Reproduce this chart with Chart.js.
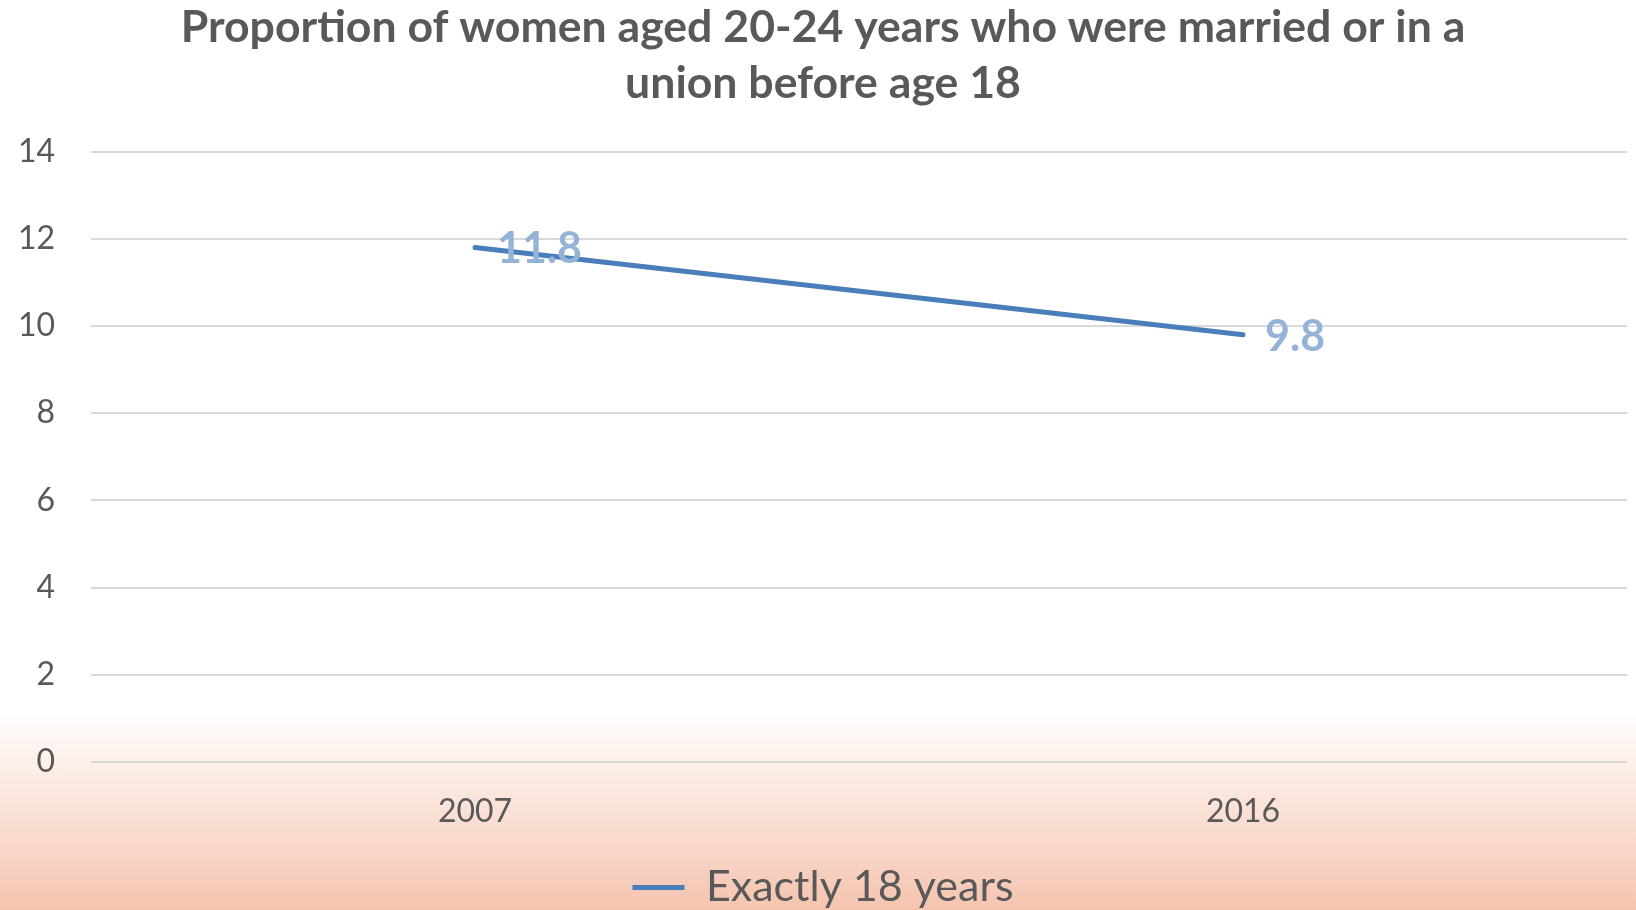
<!DOCTYPE html>
<html>
<head>
<meta charset="utf-8">
<script src="https://cdn.jsdelivr.net/npm/chart.js@4/dist/chart.umd.min.js"></script>
<style>
  html, body { margin: 0; padding: 0; background: #fff; }
  #wrap { width: 1636px; height: 910px; }
</style>
</head>
<body>
<div id="wrap"><canvas id="lineChart"></canvas></div>
<script>
// data
const years = ["2007", "2016"];
const exactly18 = [11.8, 9.8];
const seriesName = "Exactly 18 years";
const titleLines = ["Proportion of women aged 20-24 years who were married or in a", "union before age 18"];

const LINE_BLUE = "#4a7ebb";
const LABEL_BLUE = "#95b3d7";
const GREY_TEXT = "#595959";

// white page with the peach fade at the bottom
const bgPlugin = {
  id: "bg",
  beforeDraw(chart) {
    const c = chart.ctx;
    const w = chart.width, h = chart.height;
    c.save();
    c.fillStyle = "#ffffff";
    c.fillRect(0, 0, w, h);
    const g = c.createLinearGradient(0, 710, 0, h);
    g.addColorStop(0, "rgba(245,196,175,0)");
    g.addColorStop(1, "rgba(245,196,175,1)");
    c.fillStyle = g;
    c.fillRect(0, 710, w, h - 710);
    c.restore();
  }
};

// value labels to the right of each point
const valueLabels = {
  id: "valueLabels",
  afterDatasetsDraw(chart) {
    const c = chart.ctx;
    const meta = chart.getDatasetMeta(0);
    c.save();
    c.font = "bold 43px Lato";
    c.fillStyle = LABEL_BLUE;
    c.textAlign = "left";
    c.textBaseline = "middle";
    meta.data.forEach(function (pt, i) {
      c.fillText(String(chart.data.datasets[0].data[i]), pt.x + 22, pt.y + 2);
    });
    c.restore();
  }
};

new Chart(document.getElementById("lineChart"), {
  type: "line",
  data: {
    labels: years,
    datasets: [{
      label: seriesName,
      data: exactly18,
      borderColor: LINE_BLUE,
      backgroundColor: LINE_BLUE,
      borderWidth: 5,
      borderCapStyle: "round",
      pointRadius: 0,
      tension: 0
    }]
  },
  options: {
    responsive: true,
    maintainAspectRatio: false,
    animation: false,
    layout: { padding: { left: 19, right: 9, top: 0, bottom: -9 } },
    plugins: {
      title: {
        display: true,
        text: titleLines,
        color: GREY_TEXT,
        font: { family: "Lato", size: 44.6, weight: "bold", lineHeight: 1.25 },
        padding: { top: 0, bottom: 40 }
      },
      legend: {
        position: "bottom",
        labels: {
          color: GREY_TEXT,
          font: { family: "Lato", size: 43, lineHeight: 1.0 },
          boxWidth: 52,
          boxHeight: 5,
          padding: 1,
          generateLabels(chart) {
            const items = Chart.defaults.plugins.legend.labels.generateLabels(chart);
            items.forEach(function (it) { it.lineWidth = 0; it.fillStyle = LINE_BLUE; });
            return items;
          }
        }
      },
      tooltip: { enabled: false }
    },
    scales: {
      x: {
        offset: true,
        grid: { display: false },
        border: { display: false },
        ticks: { color: GREY_TEXT, font: { family: "Lato", size: 32 }, padding: 22 },
        afterFit(scale) { scale.height = 103; }
      },
      y: {
        min: 0,
        max: 14,
        ticks: { stepSize: 2, color: GREY_TEXT, font: { family: "Lato", size: 32 }, padding: 36 },
        grid: { color: "#d9d9d9", lineWidth: 2, drawTicks: false },
        border: { display: false },
        afterFit(scale) { scale.width = 72; }
      }
    }
  },
  plugins: [bgPlugin, valueLabels]
});
</script>
</body>
</html>
